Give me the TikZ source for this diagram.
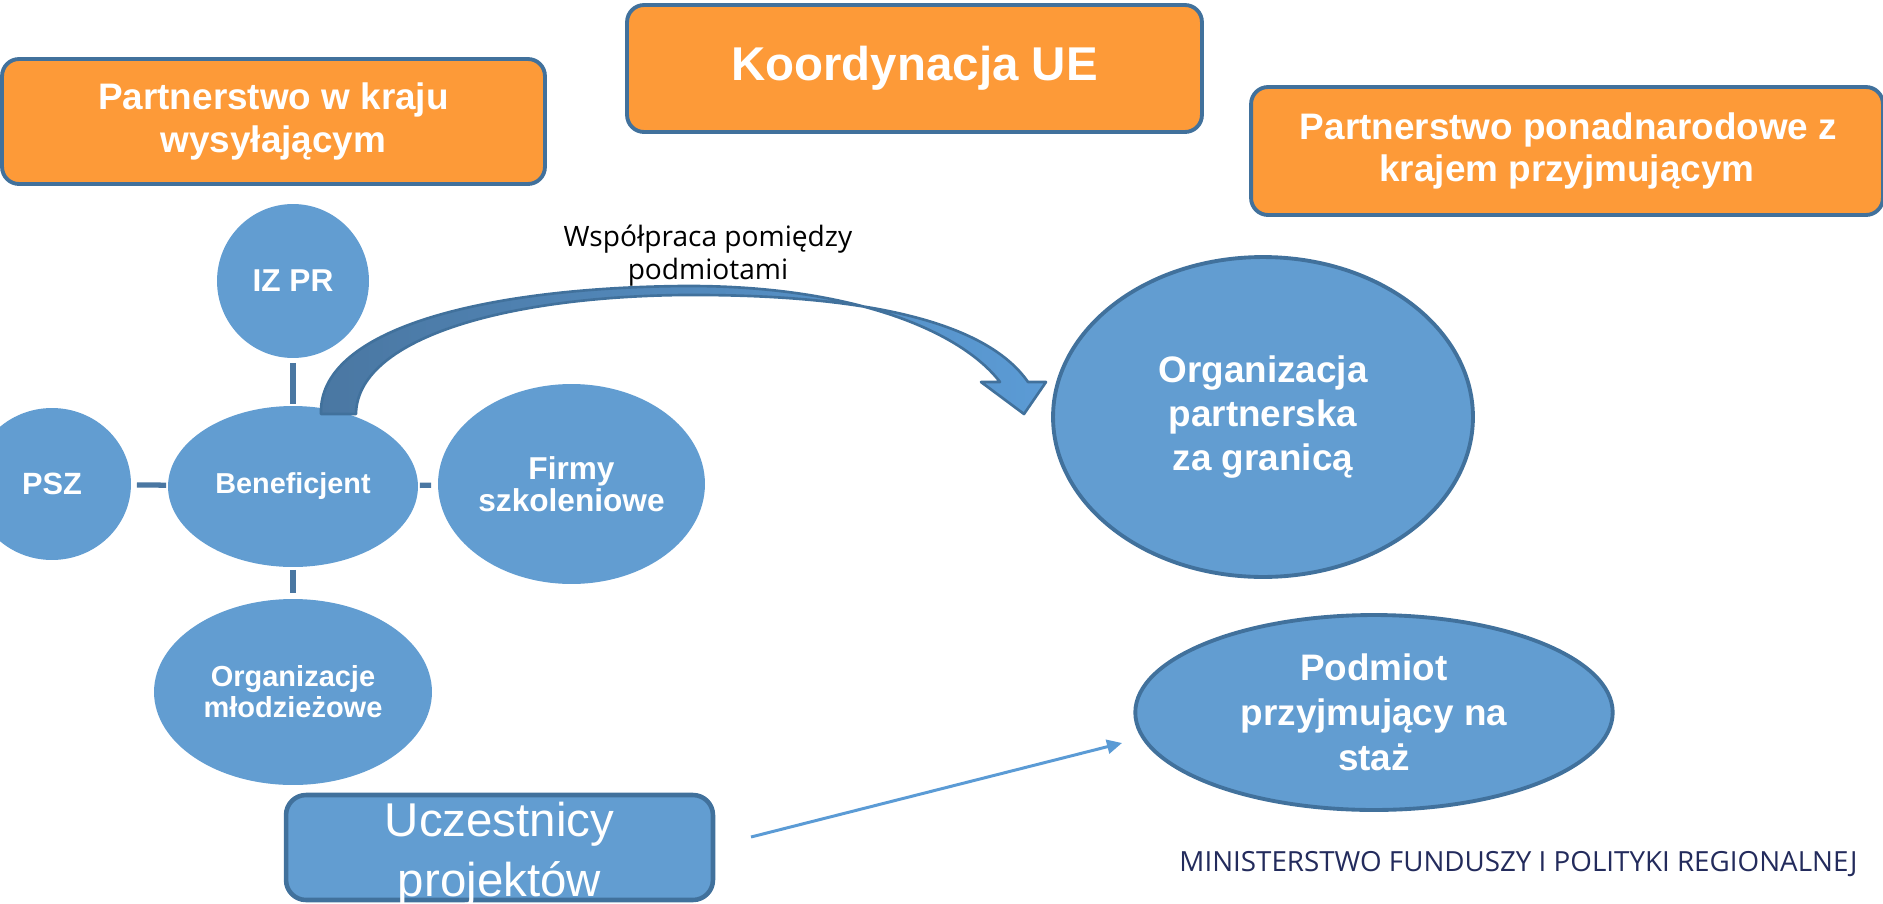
\documentclass[tikz,border=0pt]{standalone}
\usepackage{fontspec}
\setmainfont{Liberation Sans}
\newfontfamily\osans{Open Sans}
\usetikzlibrary{shapes.geometric,arrows.meta}
\definecolor{orng}{HTML}{FD9A38}
\definecolor{blu}{HTML}{629DD1}
\definecolor{bordblue}{HTML}{41719C}
\definecolor{linkblue}{HTML}{4A77A2}
\definecolor{arrlight}{HTML}{5B9BD5}
\definecolor{navy}{HTML}{232B5C}
\tikzset{
  orangebox/.style={rectangle, rounded corners=0.34cm, fill=orng, draw=bordblue, line width=2.2pt, text=white, align=center, inner sep=0pt},
  blobe/.style={ellipse, fill=blu, text=white, align=center, inner sep=0pt, outer sep=0pt, font=\bfseries\fontsize{18pt}{18.5pt}\selectfont},
  blobeb/.style={blobe, draw=bordblue, line width=2.2pt},
  link/.style={draw=linkblue, line width=3pt},
  thinarrow/.style={draw=arrlight, line width=1.7pt, -{Triangle[length=0.3cm,width=0.28cm]}},
}
\begin{document}
\begin{tikzpicture}[x=0.02cm,y=-0.02cm]
\useasboundingbox (0,0) rectangle (1883,903);
\clip (0,0) rectangle (1883,903);

% orange header boxes
\node[orangebox, minimum width=10.86cm, minimum height=2.5cm,
  font=\bfseries\fontsize{21pt}{24.5pt}\selectfont] (boxA) at (273.5,121.5)
  {Partnerstwo w kraju\\wysyłającym};
\node[orangebox, minimum width=11.5cm, minimum height=2.54cm,
  font=\bfseries\fontsize{27pt}{30pt}\selectfont] (boxB) at (914.5,68.5)
  {Koordynacja UE};
\node[orangebox, minimum width=12.64cm, minimum height=2.56cm,
  font=\bfseries\fontsize{21pt}{23.5pt}\selectfont] (boxC) at (1567,151)
  {\hspace*{0.06cm}Partnerstwo ponadnarodowe z\\krajem przyjmującym};

% left cluster
\node[blobe, minimum width=3.04cm, minimum height=3.08cm] (izpr) at (293,281) {IZ PR};
\node[blobe, minimum width=3.16cm, minimum height=3.04cm, font=\bfseries\fontsize{17.5pt}{18pt}\selectfont] (psz) at (52,484) {PSZ};
\node[blobe, minimum width=5.0cm, minimum height=3.22cm, font=\bfseries\fontsize{16.4pt}{17pt}\selectfont] (ben) at (293,486.5) {Beneficjent};
\node[blobe, minimum width=5.34cm, minimum height=4.0cm] (firmy) at (571.5,484) {Firmy\\szkoleniowe};
\node[blobe, minimum width=5.56cm, minimum height=3.72cm, font=\bfseries\fontsize{16.5pt}{17.6pt}\selectfont] (org) at (293,692) {Organizacje\\młodzieżowe};

\draw[link, shorten <=0.1cm, shorten >=0.04cm] (izpr) -- (ben);
\draw[link, shorten <=0.12cm, shorten >=0.04cm] (psz) -- (ben);
\draw[link, shorten <=0.04cm, shorten >=0.14cm] (ben) -- (firmy);
\draw[link, shorten <=0.06cm, shorten >=0.12cm] (ben) -- (org);

% right side ellipses
\node[blobeb, minimum width=8.4cm, minimum height=6.4cm, font=\bfseries\fontsize{21pt}{25pt}\selectfont] (orgp) at (1263,417)
  {Organizacja\\partnerska\\za granicą};
\node[blobeb, minimum width=9.55cm, minimum height=3.9cm, font=\bfseries\fontsize{21pt}{25.5pt}\selectfont] (pod) at (1374,712.5)
  {Podmiot\\przyjmujący na\\staż};

% curved block arrow
\filldraw[draw=bordblue, line width=1.5pt, line join=round, left color=linkblue, right color=arrlight]
  (321,414) .. controls (318,330) and (480,288) .. (683,286)
  .. controls (850,285) and (960,330) .. (1000,382)
  -- (981,382) -- (1024,414) -- (1046,382) -- (1028,382)
  .. controls (985,320) and (860,294) .. (683,295)
  .. controls (500,297) and (357,340) .. (356,414) -- cycle;
\node[font=\osans\fontsize{16pt}{18.8pt}\selectfont, align=center, inner sep=0pt] (lbl) at (708,256)
  {Współpraca pomiędzy\\podmiotami};

% participants box
\node[rectangle, rounded corners=0.4cm, fill=blu, draw=bordblue, line width=2.6pt,
  minimum width=8.54cm, minimum height=2.1cm] (ucz) at (499.5,847.5) {};
\node[text=white, align=center, inner sep=0pt, font=\fontsize{27pt}{34pt}\selectfont] (uczlbl) at (499.5,854)
  {Uczestnicy\\projektów};

\coordinate (arrS) at (751,837);
\coordinate (arrE) at (1122,743);
\draw[thinarrow] (arrS) -- (arrE);

\node[font=\osans\fontsize{15.8pt}{17pt}\selectfont, text=navy, inner sep=0pt] (footer) at (1518.5,864)
  {MINISTERSTWO FUNDUSZY I POLITYKI REGIONALNEJ};
\end{tikzpicture}
\end{document}
